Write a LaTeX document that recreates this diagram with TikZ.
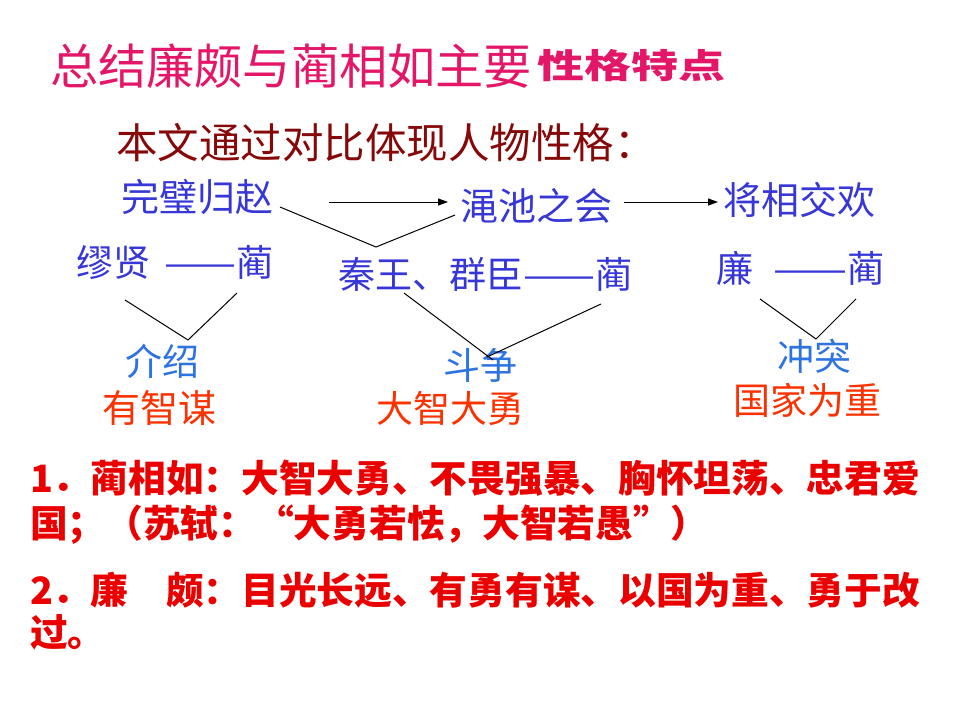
\documentclass[tikz,border=0pt]{standalone}
\usepackage{fontspec}
\usepackage{graphicx}
\usetikzlibrary{arrows.meta}
\newfontfamily\cjk{Noto Sans CJK SC}
\newcommand\myfs[1]{\fontsize{#1pt}{#1pt}\selectfont}
\newcommand\longdash[1]{\resizebox{#1}{\height}{——}}
\definecolor{titlepink}{RGB}{228,22,104}
\definecolor{subred}{RGB}{135,8,8}
\definecolor{dblue}{RGB}{55,55,215}
\definecolor{lblue}{RGB}{45,115,225}
\definecolor{ored}{RGB}{250,50,0}
\definecolor{bred}{RGB}{235,0,0}
\begin{document}
\begin{tikzpicture}[x=1pt,y=-1pt,
  every node/.style={inner sep=0pt,outer sep=0pt,font=\cjk},
  txt/.style={anchor=base west},
  ctr/.style={anchor=base},
  event/.style={txt,text=dblue,font=\cjk\myfs{38}},
  pair/.style={txt,text=dblue,font=\cjk\myfs{37}},
  kind/.style={ctr,text=lblue,font=\cjk\myfs{37}},
  trait/.style={ctr,text=ored,font=\cjk\myfs{37}},
  summary/.style={txt,text=bred,font=\cjk\bfseries\myfs{37.7}},
  conn/.style={line width=1pt,black},
  arr/.style={conn,-{Triangle[length=10pt,width=7pt]}}]
\fill[white] (0,0) rectangle (960,720);
\useasboundingbox (0,0) rectangle (960,720);

% title
\node[txt,text=titlepink,font=\cjk\myfs{48.2}] (title) at (50,84) {总结廉颇与蔺相如主要};
\node[txt,text=titlepink] (tsub) at (537,78) {\resizebox{188pt}{\height}{\cjk\bfseries\myfs{34}性格特点}};
\node[txt,text=subred,font=\cjk\myfs{41.5}] (sub) at (116,158.6) {本文通过对比体现人物性格：};

% events
\node[event] (wbgz) at (121.5,211) {完璧归赵};
\node[event] (mczh) at (460.5,220) {渑池之会};
\node[event] (jxjh) at (723.5,214) {将相交欢};

% pairs
\node[pair] (mx) at (76.5,276) {缪贤\hspace{14pt}\longdash{72pt}蔺};
\node[pair] (qw) at (338.5,288) {秦王、群臣\longdash{72pt}蔺};
\node[pair] (lian) at (716.5,282) {廉\hspace{20pt}\longdash{74pt}蔺};

% kinds and traits
\node[kind] (js) at (162.5,375) {介绍};
\node[trait,font=\cjk\myfs{38}] (yzm) at (159,422) {有智谋};
\node[kind] (dz) at (480,379) {斗争};
\node[trait] (dzdy) at (450,422) {大智大勇};
\node[kind] (ct) at (814.5,370) {冲突};
\node[trait] (gjwz) at (807.5,414) {国家为重};

% summary
\node[summary] (p1) at (30,492) {1．蔺相如：大智大勇、不畏强暴、胸怀坦荡、忠君爱};
\node[summary] (p1b) at (30,537) {国；（苏轼：“大勇若怯，大智若愚”）};
\node[summary] (p2) at (30,604) {2．廉　颇：目光长远、有勇有谋、以国为重、勇于改};
\node[summary] (p2b) at (30,646) {过。};

% connector points
\coordinate (a1s) at (329,202);
\coordinate (a1e) at (448,202);
\coordinate (a2s) at (624,202);
\coordinate (a2e) at (718,202);
\coordinate (z1) at (280,207);
\coordinate (z2) at (376,247);
\coordinate (z3) at (455,215);
\coordinate (va1) at (125,300);
\coordinate (va2) at (188,340);
\coordinate (va3) at (237,293);
\coordinate (vb1) at (404,293);
\coordinate (vb2) at (493,360);
\coordinate (vb3) at (601,304);
\coordinate (vb4) at (487,357);
\coordinate (vc1) at (760,299);
\coordinate (vc2) at (816,339);
\coordinate (vc3) at (856,299);

\draw[arr] (a1s) -- (a1e);
\draw[arr] (a2s) -- (a2e);
\draw[conn] (z1) -- (z2) -- (z3);
\draw[conn] (va1) -- (va2) -- (va3);
\draw[conn] (vb1) -- (vb2);
\draw[conn] (vb3) -- (vb4);
\draw[conn] (vc1) -- (vc2) -- (vc3);
\end{tikzpicture}
\end{document}
